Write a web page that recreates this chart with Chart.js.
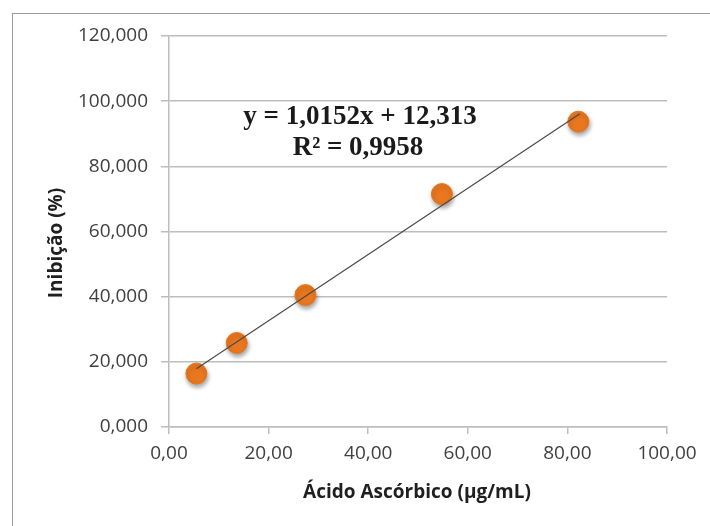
<!DOCTYPE html>
<html>
<head>
<meta charset="utf-8">
<script src="https://cdn.jsdelivr.net/npm/chart.js@4.4.1/dist/chart.umd.min.js"></script>
<style>
  html, body { margin: 0; padding: 0; background: #fff; }
  #wrap { width: 710px; height: 526px; position: relative; }
</style>
</head>
<body>
<div id="wrap"><canvas id="chart" width="710" height="526"></canvas></div>
<script>
// ===== DATA =====
const concentracao = [5.5, 13.6, 27.4, 54.8, 82.2];     // µg/mL
const inibicao = [16.4, 25.8, 40.5, 71.5, 93.7];          // %
const trendX = [5.5, 82.5];
const trendY = [17.9, 96.1];
const equacao = ['y = 1,0152x + 12,313', 'R² = 0,9958'];
const xTitle = 'Ácido Ascórbico (µg/mL)';
const yTitle = 'Inibição (%)';

const tickFont = { family: 'Open Sans', size: 19 };
const gridColor = '#bdbdbd';

// frame, axis titles and equation label
const extras = {
    id: 'extras',
    beforeDraw(chart) {
        const ctx = chart.ctx;
        ctx.save();
        ctx.fillStyle = '#fff';
        ctx.fillRect(0, 0, chart.width, chart.height);
        ctx.strokeStyle = '#9a9a9a';
        ctx.lineWidth = 1;
        ctx.strokeRect(12.5, 13.5, 800, 800);
        ctx.restore();
    },
    beforeDatasetDraw(chart, args) {
        if (args.index === 0) {
            chart.ctx.save();
            chart.ctx.shadowColor = 'rgba(0,0,0,0.35)';
            chart.ctx.shadowBlur = 4;
            chart.ctx.shadowOffsetX = 1;
            chart.ctx.shadowOffsetY = 3;
        }
    },
    afterDatasetDraw(chart, args) {
        if (args.index === 0) chart.ctx.restore();
    },
    afterDraw(chart) {
        const ctx = chart.ctx;
        ctx.save();
        ctx.fillStyle = '#1f1f1f';
        ctx.textAlign = 'center';
        ctx.textBaseline = 'middle';
        ctx.font = 'bold 19px "Open Sans"';
        ctx.fillText(xTitle, 417, 493);
        ctx.translate(57, 243);
        ctx.rotate(-Math.PI / 2);
        ctx.fillText(yTitle, 0, 0);
        ctx.restore();

        ctx.save();
        ctx.fillStyle = '#1a1a1a';
        ctx.textAlign = 'center';
        ctx.textBaseline = 'middle';
        ctx.font = 'bold 27px "Liberation Serif"';
        ctx.fillText(equacao[0], 360, 117);
        ctx.fillText(equacao[1], 358, 148);
        ctx.restore();
    }
};

new Chart(document.getElementById('chart'), {
    type: 'scatter',
    data: {
        datasets: [
            {
                label: 'Inibição',
                data: concentracao.map((x, i) => ({ x: x, y: inibicao[i] })),
                backgroundColor: '#e8771f',
                borderColor: '#e8771f',
                pointRadius: 10.5,
                order: 2
            },
            {
                type: 'line',
                label: 'Linear',
                data: trendX.map((x, i) => ({ x: x, y: trendY[i] })),
                borderColor: '#4a4a4a',
                borderWidth: 1.2,
                pointRadius: 0,
                fill: false,
                order: 1
            }
        ]
    },
    options: {
        responsive: false,
        animation: false,
        layout: { padding: { left: 0, top: 36, right: 43, bottom: 0 } },
        plugins: {
            legend: { display: false },
            tooltip: { enabled: false }
        },
        scales: {
            x: {
                type: 'linear',
                min: 0,
                max: 100,
                afterFit(scale) { scale.height = 99; },
                border: { color: gridColor, width: 1.5 },
                grid: { drawOnChartArea: false, color: gridColor, tickLength: 7, lineWidth: 1.5 },
                ticks: {
                    stepSize: 20,
                    padding: 8,
                    color: '#404040',
                    font: tickFont,
                    maxRotation: 0,
                    callback: v => v.toFixed(2).replace('.', ',')
                }
            },
            y: {
                min: 0,
                max: 120,
                afterFit(scale) { scale.width = 169; },
                border: { color: gridColor, width: 1.5 },
                grid: { color: gridColor, tickLength: 8, lineWidth: 1.5 },
                ticks: {
                    stepSize: 20,
                    padding: 13,
                    color: '#404040',
                    font: tickFont,
                    callback: v => v.toFixed(3).replace('.', ',')
                }
            }
        }
    },
    plugins: [extras]
});
</script>
</body>
</html>
